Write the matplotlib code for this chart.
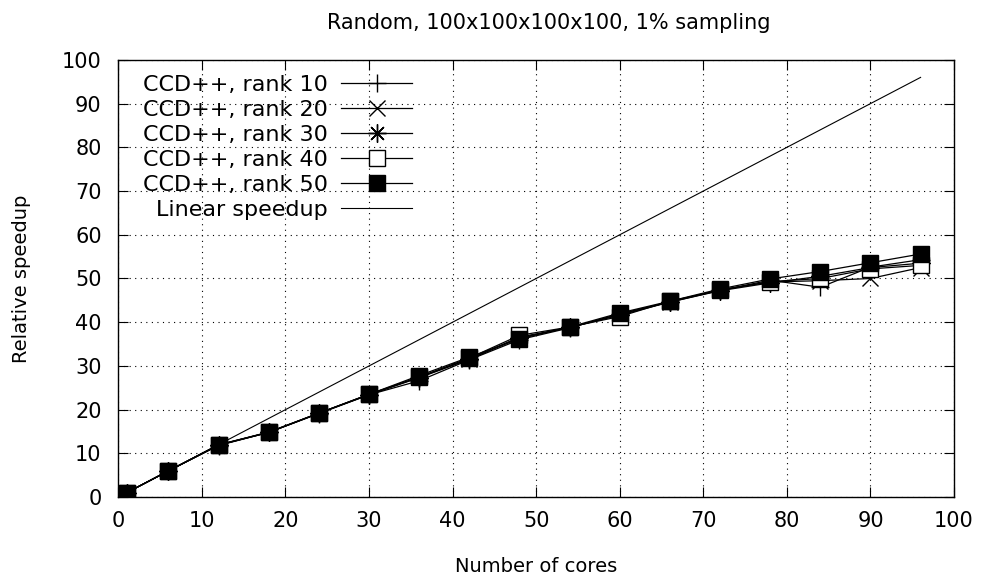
import numpy as np
import matplotlib
matplotlib.use("Agg")
import matplotlib.pyplot as plt

# core counts and measured relative speedups
cores = [1, 6, 12, 18, 24, 30, 36, 42, 48, 54, 60, 66, 72, 78, 84, 90, 96]
rank10 = [1.0, 6.0, 11.8, 14.8, 19.1, 23.4, 26.6, 31.4, 36.0, 38.7, 41.9, 44.6, 47.3, 49.6, 48.0, 52.6, 54.3]
rank20 = [1.0, 6.0, 11.9, 14.8, 19.2, 23.5, 27.4, 31.6, 36.6, 38.8, 41.8, 44.7, 47.4, 49.2, 49.5, 50.0, 52.5]
rank30 = [1.0, 6.0, 11.9, 14.9, 19.2, 23.4, 27.3, 31.5, 36.4, 38.8, 41.6, 44.6, 47.2, 49.0, 50.5, 52.5, 53.5]
rank40 = [1.0, 6.0, 11.9, 14.8, 19.2, 23.5, 27.5, 31.8, 37.0, 38.9, 41.3, 44.8, 47.3, 49.3, 50.0, 52.2, 53.0]
rank50 = [1.0, 6.0, 12.0, 14.8, 19.2, 23.5, 27.8, 32.0, 36.2, 38.9, 42.1, 44.8, 47.6, 49.9, 51.6, 53.6, 55.6]
linear = cores

ticks = list(range(0, 101, 10))

plt.rcParams['font.family'] = 'DejaVu Sans'
plt.rcParams['font.size'] = 15

fig = plt.figure(figsize=(9.82, 5.76), dpi=100)
ax = fig.add_axes([0.1205, 0.137, 0.851, 0.759])

lw = 0.9
ax.plot(cores, rank10, color='black', lw=lw, marker='+', ms=13, mew=1.0, label='CCD++, rank 10')
ax.plot(cores, rank20, color='black', lw=lw, marker='x', ms=12, mew=1.0, label='CCD++, rank 20')
ax.plot(cores, rank30, color='black', lw=lw, marker=(8, 2, 0), ms=13, mew=1.0, label='CCD++, rank 30')
ax.plot(cores, rank40, color='black', lw=lw, marker='s', ms=12, mew=1.0, mfc='white', label='CCD++, rank 40')
ax.plot(cores, rank50, color='black', lw=lw, marker='s', ms=12, mew=1.0, mfc='black', label='CCD++, rank 50')
ax.plot(cores, linear, color='black', lw=0.8, label='Linear speedup')

ax.set_xlim(0, 100)
ax.set_ylim(0, 100)
ax.set_xticks(ticks)
ax.set_yticks(ticks)
ax.tick_params(direction='in', length=7, top=True, right=True, width=0.8, labelsize=15)
ax.tick_params(axis='x', pad=10)
ax.tick_params(axis='y', pad=12)
ax.grid(True, linestyle=(0, (1, 4)), color='black', lw=0.8)
for s in ax.spines.values():
    s.set_linewidth(1.0)

ax.set_title('Random, 100x100x100x100, 1% sampling', fontsize=15, pad=22, x=0.515)
ax.set_xlabel('Number of cores', fontsize=14, labelpad=19)
ax.set_ylabel('Relative speedup', fontsize=14, labelpad=22)

leg = ax.legend(loc='upper right', bbox_to_anchor=(0.352, 0.965), frameon=False,
                markerfirst=False, numpoints=1, handlelength=3.2, handletextpad=0.6,
                labelspacing=0.22, borderpad=0, borderaxespad=0, fontsize=16)

fig.savefig('out.png', dpi=100)
